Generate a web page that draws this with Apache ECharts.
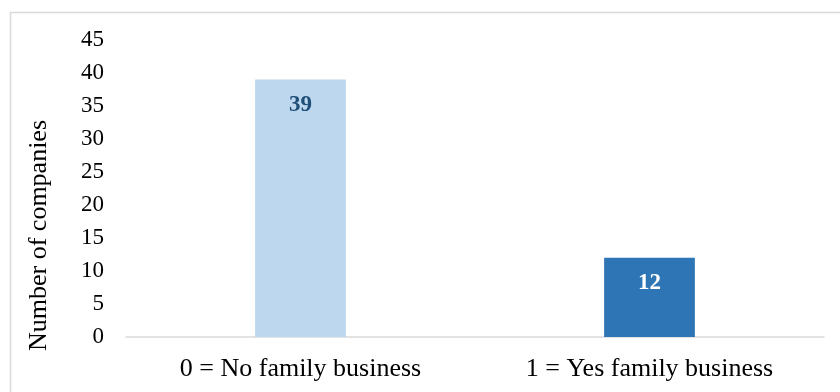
<!DOCTYPE html>
<html>
<head>
<meta charset="utf-8">
<script src="https://cdn.jsdelivr.net/npm/echarts@6/dist/echarts.min.js"></script>
<style>
  html, body { margin: 0; padding: 0; background: #fff; }
  #chart { width: 840px; height: 392px; }
</style>
</head>
<body>
<div id="chart"></div>
<script>
const categories = ['0 = No family business', '1 = Yes family business']
const companyCounts = [39, 12]
const barColors = ['#BDD7EE', '#2E75B6']
const labelColors = ['#1F4E79', '#FFFFFF']

const yMin = 0
const yMax = 45
const yStep = 5

const font = 'Liberation Serif, Times New Roman, serif'

const chart = echarts.init(document.getElementById('chart'))

const option = {
  animation: false,
  graphic: [
    {
      type: 'rect',
      shape: { x: 10.5, y: 12.5, width: 900, height: 500 },
      style: { fill: 'none', stroke: '#d9d9d9', lineWidth: 1.5 },
      silent: true
    }
  ],
  grid: { left: 126, right: 16, top: 40, bottom: 55, containLabel: false },
  xAxis: {
    type: 'category',
    data: categories,
    axisLine: { lineStyle: { color: '#d9d9d9', width: 1.5 } },
    axisTick: { show: false },
    axisLabel: { color: '#000', fontFamily: font, fontSize: 26, margin: 19 }
  },
  yAxis: {
    type: 'value',
    min: yMin,
    max: yMax,
    interval: yStep,
    name: 'Number of companies',
    nameLocation: 'middle',
    nameGap: 74,
    nameTextStyle: { color: '#000', fontFamily: font, fontSize: 26, padding: [0, 94, 0, 0] },
    axisLine: { show: false },
    axisTick: { show: false },
    splitLine: { show: false },
    axisLabel: { color: '#000', fontFamily: font, fontSize: 23, margin: 22 }
  },
  series: [
    {
      type: 'bar',
      barWidth: '26%',
      data: companyCounts.map((v, i) => ({
        value: v,
        itemStyle: { color: barColors[i] },
        label: { color: labelColors[i] }
      })),
      label: {
        show: true,
        position: 'insideTop',
        distance: 14,
        fontFamily: font,
        fontSize: 23,
        fontWeight: 'bold'
      }
    }
  ]
}

chart.setOption(option)
</script>
</body>
</html>
